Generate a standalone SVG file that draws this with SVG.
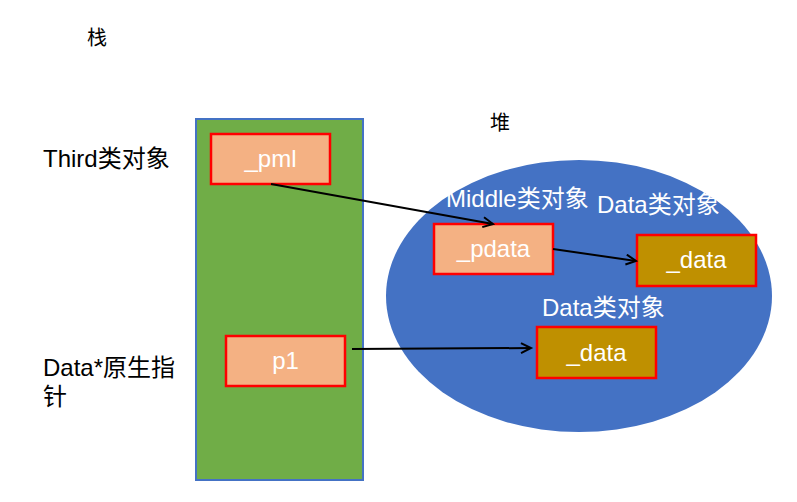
<svg xmlns="http://www.w3.org/2000/svg" width="797" height="502" viewBox="0 0 797 502">
<style>
.lbl{font-family:"Liberation Sans","Noto Sans CJK SC",sans-serif;font-size:24px;fill:#000}
.wl{font-family:"Liberation Sans","Noto Sans CJK SC",sans-serif;font-size:24px;fill:#fff}
.bt{font-family:"Liberation Sans","Noto Sans CJK SC",sans-serif;font-size:24px;fill:#fff;text-anchor:middle}
.cj{font-family:"Noto Sans CJK SC",sans-serif;font-size:20px;fill:#000}
.sal{fill:#F4B183;stroke:#FF0000;stroke-width:2.5}
.olv{fill:#BF9000;stroke:#FF0000;stroke-width:2.5}
.conn{stroke:#000;stroke-width:2;fill:none;marker-end:url(#arr)}
</style>
<defs>
<marker id="arr" markerUnits="userSpaceOnUse" markerWidth="14" markerHeight="14" refX="11" refY="6" orient="auto">
<path d="M1,1 L11,6 L1,11" fill="none" stroke="#000" stroke-width="2"/>
</marker>
</defs>
<rect width="797" height="502" fill="#fff"/>
<text class="cj" x="87" y="45">栈</text>
<text class="cj" x="490" y="130">堆</text>
<g id="stack">
<rect x="196" y="119" width="167" height="361" fill="#70AD47" stroke="#4472C4" stroke-width="2"/>
</g>
<g id="heap">
<ellipse cx="579" cy="296" rx="193" ry="136" fill="#4472C4"/>
</g>
<g id="third-label"><text class="lbl" x="43" y="167">Third类对象</text></g>
<g id="ptr-label"><text class="lbl" x="43" y="376">Data*原生指</text><text class="lbl" x="43" y="405">针</text></g>
<g id="middle-label"><text class="wl" x="446" y="207">Middle类对象</text></g>
<g id="data-label1"><text class="wl" x="597" y="213">Data类对象</text></g>
<g id="data-label2"><text class="wl" x="542" y="316">Data类对象</text></g>
<g id="pml">
<rect class="sal" x="211" y="134" width="119" height="50"/>
<text class="bt" x="270.5" y="167">_pml</text>
</g>
<g id="p1">
<rect class="sal" x="226" y="336" width="119" height="50"/>
<text class="bt" x="285.5" y="369">p1</text>
</g>
<g id="pdata">
<rect class="sal" x="434" y="224" width="119" height="50"/>
<text class="bt" x="493.5" y="257">_pdata</text>
</g>
<g id="data1">
<rect class="olv" x="637" y="235" width="119" height="51"/>
<text class="bt" x="696.5" y="268">_data</text>
</g>
<g id="data2">
<rect class="olv" x="537" y="327" width="119" height="51"/>
<text class="bt" x="596.5" y="361">_data</text>
</g>
<g id="connectors">
<line class="conn" x1="271" y1="184" x2="493" y2="224"/>
<line class="conn" x1="553" y1="249" x2="636" y2="261"/>
<line class="conn" x1="352" y1="349" x2="531" y2="348"/>
</g>
</svg>
